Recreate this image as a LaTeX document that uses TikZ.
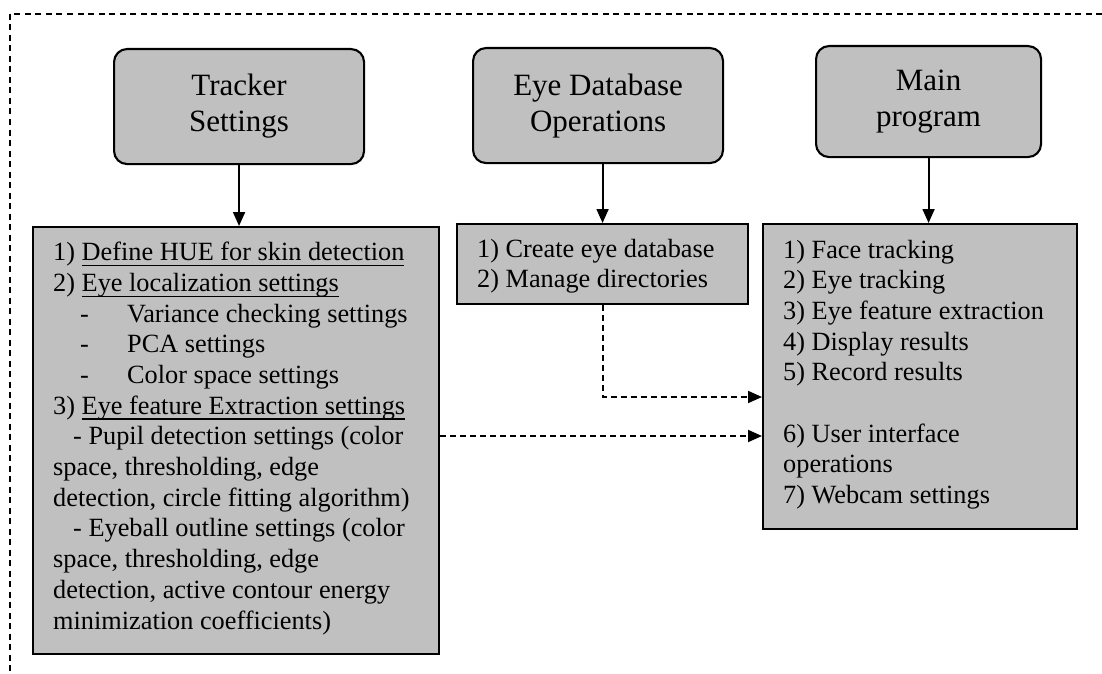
\documentclass[tikz,border=0pt]{standalone}
\usepackage{fontspec}
\setmainfont{Liberation Serif}
\usetikzlibrary{arrows.meta,calc}
\definecolor{boxgray}{HTML}{C0C0C0}
\newcommand\ulx[1]{\setbox0\hbox{#1}\rlap{\rule[-5.5pt]{\wd0}{1.5pt}}\box0}
\tikzset{
  titlebox/.style={draw, fill=boxgray, rounded corners=13pt, line width=2.1pt,
    align=center, font=\fontsize{31}{36}\selectfont, anchor=north west, inner sep=0pt},
  listbox/.style={draw, fill=boxgray, line width=2.1pt, anchor=north west, inner sep=0pt},
  listtext/.style={anchor=base west, align=left, font=\fontsize{26.3}{30.67}\selectfont, inner sep=0pt},
  flow/.style={line width=1.9pt, -{Triangle[length=14pt,width=12pt]}},
  dflow/.style={flow, dash pattern=on 6pt off 4pt},
}
\begin{document}
\begin{tikzpicture}[x=1pt,y=-1pt]
\useasboundingbox (0,0) rectangle (1102,674);
\clip (0,0) rectangle (1102,674);
\draw[line width=1.7pt, dash pattern=on 6pt off 4.5pt] (10,14) rectangle (1130,700);

% title boxes
\node[titlebox, minimum width=250pt, minimum height=115pt] (ts) at (113,48) {Tracker\\Settings};
\node[titlebox, minimum width=250pt, minimum height=115pt] (ed) at (472,47) {Eye Database\\Operations};
\node[titlebox, minimum width=225pt, minimum height=111pt] (mp) at (815,45) {Main\\program};

% list boxes
\node[listbox, minimum width=406pt, minimum height=427pt] (tl) at (32,226) {};
\node[listbox, minimum width=291pt, minimum height=80pt] (el) at (456,223) {};
\node[listbox, minimum width=314pt, minimum height=305pt] (ml) at (762,223) {};

% list texts (anchored at the baseline of their last line)
\node[listtext] (tlt) at (53,629) {%
1) \ulx{Define HUE for skin detection}\\
2) \ulx{Eye localization settings}\\
\hspace*{27pt}\makebox[47pt][l]{-}Variance checking settings\\
\hspace*{27pt}\makebox[47pt][l]{-}PCA settings\\
\hspace*{27pt}\makebox[47pt][l]{-}Color space settings\\
3) \ulx{Eye feature Extraction settings}\\
\hspace*{20pt}- Pupil detection settings (color\\
space, thresholding, edge\\
detection, circle fitting algorithm)\\
\hspace*{20pt}- Eyeball outline settings (color\\
space, thresholding, edge\\
detection, active contour energy\\
minimization coefficients)};

\node[listtext] (elt) at (477,287.7) {%
1) Create eye database\\
2) Manage directories};

\node[listtext] (mlt) at (783,503.4) {%
1) Face tracking\\
2) Eye tracking\\
3) Eye feature extraction\\
4) Display results\\
5) Record results\\
\mbox{}\\
6) User interface\\
operations\\
7) Webcam settings};

% connectors
\draw[flow] (ts.south) -- (ts.south |- tl.north);
\draw[flow] (el.north |- ed.south) -- (el.north);
\draw[flow] (mp.south) -- (mp.south |- ml.north);
\coordinate (d1) at ([yshift=-174pt]ml.north west);
\coordinate (d2) at ([yshift=-213pt]ml.north west);
\draw[dflow] (el.south) |- (d1);
\draw[dflow] (tl.east |- d2) -- (d2);
\end{tikzpicture}
\end{document}
